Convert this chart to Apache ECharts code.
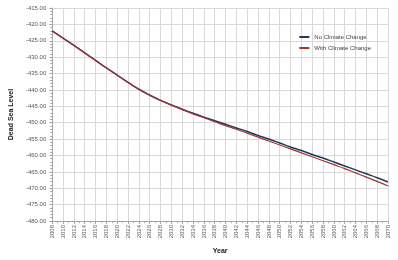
<!DOCTYPE html>
<html><head><meta charset="utf-8">
<script src="https://cdn.jsdelivr.net/npm/echarts@6/dist/echarts.min.js"></script>
<style>html,body{margin:0;padding:0;background:#fff}#c{width:398px;height:260px}</style>
</head><body><div id="c"></div>
<script>
const years = [2008,2010,2012,2014,2016,2018,2020,2022,2024,2026,2028,2030,2032,2034,2036,2038,2040,2042,2044,2046,2048,2050,2052,2054,2056,2058,2060,2062,2064,2066,2068,2070];
const noClimate = [-422.0,-424.2,-426.4,-428.7,-431.0,-433.3,-435.5,-437.7,-439.8,-441.6,-443.2,-444.6,-445.9,-447.1,-448.3,-449.4,-450.5,-451.6,-452.7,-453.9,-455.0,-456.2,-457.4,-458.5,-459.7,-460.8,-462.0,-463.2,-464.4,-465.6,-466.8,-468.1];
const withClimate = [-422.0,-424.2,-426.4,-428.7,-431.0,-433.3,-435.5,-437.7,-439.8,-441.6,-443.2,-444.6,-446.0,-447.3,-448.5,-449.7,-450.9,-452.0,-453.2,-454.4,-455.6,-456.8,-458.0,-459.2,-460.4,-461.6,-462.8,-464.0,-465.3,-466.6,-467.9,-469.3];
const seriesNames = ['No Climate Change','With Climate Change'];
const xTitle = 'Year', yTitle = 'Dead Sea Level';

const chart = echarts.init(document.getElementById('c'), null, {renderer:'canvas'});
const grid = '#d9d9d9', txt = '#595959', font = 'Liberation Sans';
chart.setOption({
  animation:false,
  grid:{left:36,right:10,top:8,bottom:35},
  legend:{
    orient:'vertical', right:22, top:29, itemWidth:10, itemHeight:2, itemGap:5,
    textStyle:{fontSize:6, color:'#404040', fontFamily:font},
    data:[{name:seriesNames[0], icon:'rect'},{name:seriesNames[1], icon:'rect'}]
  },
  xAxis:{
    type:'value', min:2008, max:2070, interval:2,
    name:xTitle, nameLocation:'middle', nameGap:27,
    nameTextStyle:{fontSize:7, fontWeight:'bold', color:'#222', fontFamily:font},
    axisLine:{lineStyle:{color:'#a6a6a6'}},
    axisTick:{show:true, length:3, lineStyle:{color:'#a6a6a6'}},
    minorTick:{show:true, splitNumber:2, length:2, lineStyle:{color:'#a6a6a6'}},
    axisLabel:{rotate:90, fontSize:6, color:txt, fontFamily:font, margin:4, formatter:v=>String(v)},
    splitLine:{show:true, lineStyle:{color:grid, width:1}}
  },
  yAxis:{
    type:'value', min:-480, max:-415, interval:5,
    name:yTitle, nameLocation:'middle', nameGap:28,
    nameTextStyle:{fontSize:7, fontWeight:'bold', color:'#222', fontFamily:font},
    axisLine:{show:true, lineStyle:{color:'#a6a6a6'}},
    axisTick:{show:true, length:3, lineStyle:{color:'#a6a6a6'}},
    minorTick:{show:true, splitNumber:5, length:2, lineStyle:{color:'#a6a6a6'}},
    axisLabel:{fontSize:6, color:txt, fontFamily:font, margin:6, formatter:v=>v.toFixed(2)},
    splitLine:{show:true, lineStyle:{color:grid, width:1}}
  },
  series:[
    {name:seriesNames[0], type:'line', smooth:true, showSymbol:false,
     data:years.map((y,i)=>[y,noClimate[i]]), lineStyle:{color:'#1f3a5a', width:1.5}, itemStyle:{color:'#1f3a5a'}},
    {name:seriesNames[1], type:'line', smooth:true, showSymbol:false,
     data:years.map((y,i)=>[y,withClimate[i]]), lineStyle:{color:'#a33535', width:1.2}, itemStyle:{color:'#a33535'}}
  ]
});
</script></body></html>
